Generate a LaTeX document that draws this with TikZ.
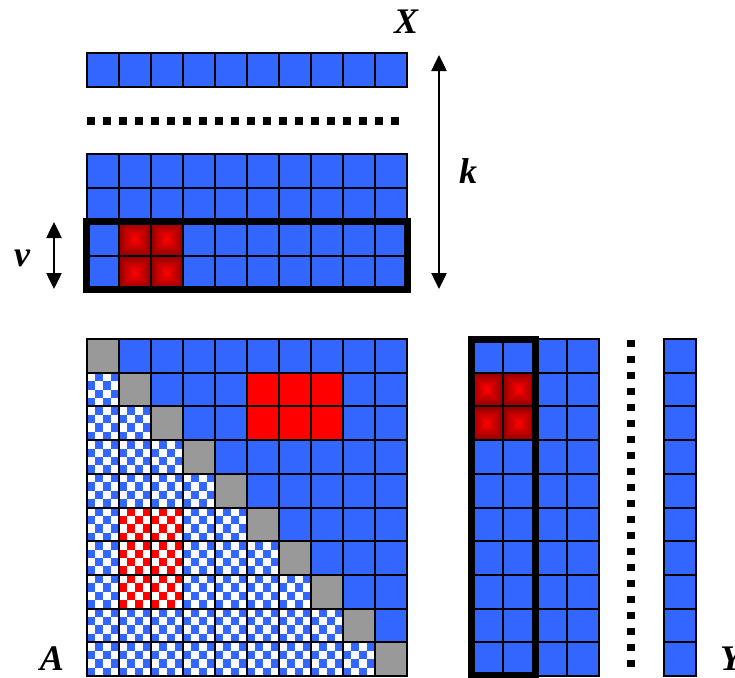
\documentclass[tikz,border=0pt]{standalone}
\usepackage{fontspec}
\setmainfont{Liberation Serif}
\usetikzlibrary{arrows.meta}

\definecolor{cellblue}{HTML}{3366FF}
\definecolor{diaggrey}{HTML}{999999}
\definecolor{hotred}{HTML}{FF0000}
\definecolor{darkred}{HTML}{600000}

\tikzset{
  gridline/.style={draw=black, line width=2pt, line cap=rect},
  frame/.style={draw=black, line width=7pt},
  dotline/.style={draw=black, line width=7.5pt},
  matlabel/.style={font=\fontsize{36}{40}\selectfont\bfseries\itshape, inner sep=0pt},
  dimarrow/.style={draw=black, line width=2.5pt,
    {Triangle[width=15pt,length=16pt]}-{Triangle[width=15pt,length=16pt]}},
}

% lines of a cols x rows grid with top-left corner (x0,y0), cell size w x h
\newcommand\cellgrid[6]{%
  \foreach \k in {0,...,#3} \draw[gridline] ({#1+\k*#5},#2) -- ({#1+\k*#5},{#2+#4*#6});
  \foreach \k in {0,...,#4} \draw[gridline] (#1,{#2+\k*#6}) -- ({#1+#3*#5},{#2+\k*#6});
}

% red cell glowing from dark edges to a bright centre
\newcommand\glowcell[4]{%
  \foreach \i in {0,...,14}{
    \pgfmathtruncatemacro\glowpct{min(100,30+5*\i)}
    \fill[hotred!\glowpct!darkred] ({#1+\i*#3/30},{#2+\i*#4/30}) rectangle ({#1+#3-\i*#3/30},{#2+#4-\i*#4/30});
  }}

% cell filled with a 4x4 checker pattern of the given colour on white
\newcommand\checkcell[5]{%
  \fill[white] (#1,#2) rectangle ({#1+#3},{#2+#4});
  \foreach \i in {0,...,3}\foreach \j in {0,...,3}{
    \pgfmathtruncatemacro\ckpar{mod(\i+\j,2)}
    \ifnum\ckpar=1 \fill[#5] ({#1+\i*#3/4},{#2+\j*#4/4}) rectangle ({#1+(\i+1)*#3/4},{#2+(\j+1)*#4/4});\fi
  }}

\begin{document}
\begin{tikzpicture}[x=1pt, y=-1pt]
\useasboundingbox (0,0) rectangle (735,677);

% ---------- matrix X ----------
\fill[cellblue] (87,53) rectangle (407,87);
\fill[cellblue] (87,154) rectangle (407,290);
\foreach \c in {2,3}\foreach \r in {4,5}{
  \pgfmathsetmacro\gx{87+32*(\c-1)}
  \pgfmathsetmacro\gy{154+34*(\r-2)}
  \glowcell{\gx}{\gy}{32}{34}
}
\cellgrid{87}{53}{10}{1}{32}{34}
\cellgrid{87}{154}{10}{4}{32}{34}
\draw[dotline, dash pattern=on 8pt off 8pt] (87,121) -- (399,121);
\draw[frame] (86.5,221.5) rectangle (407,289.5);

\coordinate (ktop) at (439,55);
\coordinate (kbot) at (439,289);
\draw[dimarrow] (ktop) -- (kbot);
\coordinate (vtop) at (54,222);
\coordinate (vbot) at (54,289);
\draw[dimarrow] (vtop) -- (vbot);

\node[matlabel] (labX) at (406,22) {X};
\node[matlabel] (labk) at (468,171) {k};
\node[matlabel] (labv) at (22,258) {v};

% ---------- matrix A ----------
\foreach \r in {1,...,10}\foreach \c in {1,...,10}{
  \pgfmathsetmacro\acx{87+32*(\c-1)}
  \pgfmathsetmacro\acy{339+33.7*(\r-1)}
  \pgfmathtruncatemacro\upred{(\r>1)*(\r<4)*(\c>5)*(\c<9)}
  \pgfmathtruncatemacro\lowred{(\r>5)*(\r<9)*(\c>1)*(\c<4)}
  \ifnum\r=\c
    \fill[diaggrey] (\acx,\acy) rectangle ++(32,33.7);
  \else\ifnum\c>\r
    \ifnum\upred=1 \fill[hotred] (\acx,\acy) rectangle ++(32,33.7);
    \else \fill[cellblue] (\acx,\acy) rectangle ++(32,33.7);\fi
  \else
    \ifnum\lowred=1 \checkcell{\acx}{\acy}{32}{33.7}{hotred}
    \else \checkcell{\acx}{\acy}{32}{33.7}{cellblue}\fi
  \fi\fi
}
\cellgrid{87}{339}{10}{10}{32}{33.7}
\node[matlabel] (labA) at (52,659) {A};

% ---------- matrix Y ----------
\fill[cellblue] (471,339) rectangle (599,676);
\fill[cellblue] (664,339) rectangle (696,676);
\foreach \c in {1,2}\foreach \r in {2,3}{
  \pgfmathsetmacro\gx{471+32*(\c-1)}
  \pgfmathsetmacro\gy{339+33.7*(\r-1)}
  \glowcell{\gx}{\gy}{32}{33.7}
}
\cellgrid{471}{339}{4}{10}{32}{33.7}
\cellgrid{664}{339}{1}{10}{32}{33.7}
\draw[frame] (471,339.5) rectangle (535,675);
\draw[dotline, dash pattern=on 7pt off 9pt] (631,340) -- (631,667);
\node[matlabel, anchor=west] (labY) at (720,659) {Y};
\end{tikzpicture}
\end{document}
